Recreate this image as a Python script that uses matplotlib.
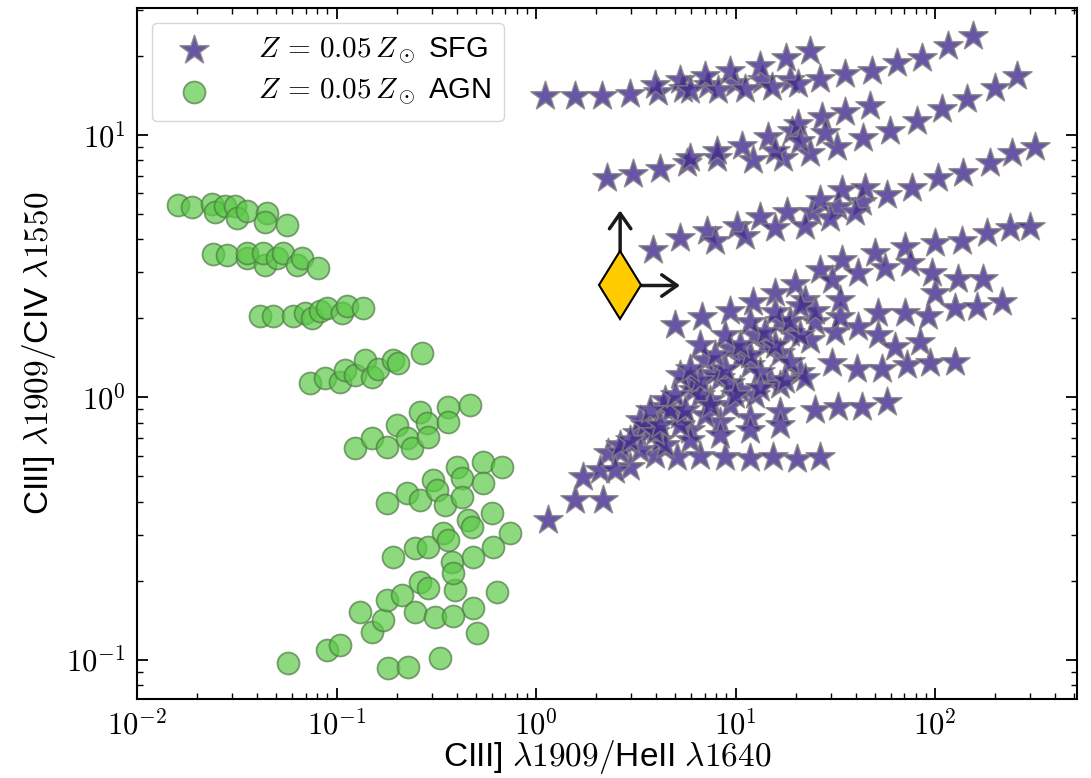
import matplotlib.pyplot as plt
import numpy as np
from matplotlib.ticker import FuncFormatter, LogLocator

plt.rcParams['mathtext.fontset'] = 'cm'
plt.rcParams['font.family'] = ['Liberation Sans', 'DejaVu Sans']

# AGN models, values as log10(CIII]/HeII), log10(CIII]/CIV)
agn_row1_x = [-1.795, -1.724, -1.624, -1.609, -1.559, -1.509, -1.499, -1.449, -1.349, -1.359, -1.248]
agn_row1_y = [0.735, 0.724, 0.739, 0.705, 0.728, 0.731, 0.682, 0.712, 0.701, 0.667, 0.659]
agn_row2_x = [-1.619, -1.549, -1.449, -1.449, -1.359, -1.369, -1.298, -1.268, -1.198, -1.173, -1.093]
agn_row2_y = [0.545, 0.541, 0.530, 0.552, 0.503, 0.552, 0.530, 0.549, 0.503, 0.530, 0.495]
agn_row3_x = [-1.384, -1.318, -1.218, -1.158, -1.123, -1.083, -1.048, -0.973, -0.948, -0.867]
agn_row3_y = [0.309, 0.312, 0.312, 0.320, 0.301, 0.331, 0.339, 0.320, 0.350, 0.339]
agn_row4_x = [-1.133, -1.058, -0.983, -0.958, -0.907, -0.857, -0.822, -0.792, -0.717, -0.692, -0.572]
agn_row4_y = [0.053, 0.072, 0.057, 0.103, 0.084, 0.141, 0.076, 0.110, 0.141, 0.130, 0.171]
agn_row5_x = [-0.907, -0.822, -0.747, -0.697, -0.647, -0.622, -0.582, -0.547, -0.542, -0.441, -0.441, -0.331]
agn_row5_y = [-0.194, -0.156, -0.190, -0.107, -0.156, -0.194, -0.057, -0.099, -0.152, -0.038, -0.095, -0.030]
agn_row6_x = [-0.747, -0.647, -0.582, -0.516, -0.496, -0.456, -0.396, -0.371, -0.371, -0.266, -0.266, -0.170]
agn_row6_y = [-0.404, -0.366, -0.392, -0.316, -0.354, -0.411, -0.267, -0.309, -0.381, -0.248, -0.328, -0.267]
agn_row7_x = [-0.717, -0.607, -0.542, -0.466, -0.441, -0.421, -0.341, -0.321, -0.316, -0.221, -0.216, -0.130]
agn_row7_y = [-0.610, -0.575, -0.571, -0.518, -0.545, -0.629, -0.469, -0.495, -0.610, -0.442, -0.571, -0.518]
agn_row8_x = [-0.582, -0.542, -0.406, -0.416, -0.316, -0.195]
agn_row8_y = [-0.705, -0.728, -0.735, -0.670, -0.804, -0.743]
agn_row9_x = [-0.882, -0.822, -0.767, -0.747, -0.672, -0.607, -0.506, -0.416, -0.296]
agn_row9_y = [-0.819, -0.895, -0.850, -0.773, -0.754, -0.819, -0.838, -0.834, -0.899]
agn_row10_x = [-1.243, -1.048, -0.983, -0.742, -0.642, -0.481]
agn_row10_y = [-1.013, -0.964, -0.945, -1.032, -1.029, -0.994]

# SFG models, same units
sfg_a1_x = [0.045, 0.195, 0.331, 0.471, 0.612, 0.737, 0.862, 0.997, 1.133, 1.273, 1.424, 1.549, 1.684, 1.810, 1.935, 2.065, 2.190]
sfg_a1_y = [1.147, 1.147, 1.147, 1.158, 1.166, 1.177, 1.189, 1.200, 1.208, 1.208, 1.215, 1.234, 1.246, 1.273, 1.295, 1.341, 1.379]
sfg_a2_x = [0.597, 0.722, 0.847, 0.973, 1.123, 1.253, 1.374]
sfg_a2_y = [1.189, 1.208, 1.227, 1.246, 1.265, 1.292, 1.322]
sfg_a3_x = [0.772, 0.912, 1.048, 1.183, 1.313]
sfg_a3_y = [1.170, 1.170, 1.177, 1.185, 1.193]
sfg_b1_x = [0.356, 0.486, 0.622, 0.757, 0.907, 1.088, 1.238, 1.374, 1.509, 1.639, 1.775, 1.910, 2.035, 2.161, 2.301, 2.411]
sfg_b1_y = [0.838, 0.853, 0.872, 0.892, 0.914, 0.903, 0.911, 0.930, 0.953, 0.987, 1.017, 1.055, 1.101, 1.139, 1.181, 1.227]
sfg_b2_x = [0.772, 0.907, 1.033, 1.163, 1.283, 1.313, 1.434, 1.549, 1.674]
sfg_b2_y = [0.911, 0.941, 0.960, 0.991, 1.017, 1.044, 1.067, 1.086, 1.112]
sfg_b3_x = [1.198, 1.323, 1.449]
sfg_b3_y = [0.941, 0.979, 1.006]
sfg_c1_x = [0.587, 0.722, 0.857, 1.008, 1.123, 1.258, 1.384, 1.514, 1.634, 1.760, 1.885, 2.015, 2.141, 2.276, 2.386, 2.501]
sfg_c1_y = [0.560, 0.606, 0.636, 0.655, 0.686, 0.705, 0.705, 0.724, 0.743, 0.770, 0.800, 0.838, 0.857, 0.892, 0.933, 0.953]
sfg_c2_x = [0.897, 1.048, 1.198, 1.349, 1.474, 1.599]
sfg_c2_y = [0.598, 0.617, 0.644, 0.655, 0.682, 0.705]
sfg_c3_x = [1.424, 1.534, 1.649]
sfg_c3_y = [0.751, 0.789, 0.800]
sfg_d1_x = [0.697, 0.832, 0.973, 1.088, 1.198, 1.298, 1.424, 1.534, 1.699, 1.850, 2.000, 2.136, 2.261, 2.376, 2.476]
sfg_d1_y = [0.274, 0.305, 0.331, 0.362, 0.396, 0.434, 0.484, 0.522, 0.552, 0.572, 0.587, 0.598, 0.625, 0.644, 0.648]
sfg_tip_x = [0.060, 0.196, 0.336, 0.236, 0.361, 0.471, 0.506, 0.321, 0.421]
sfg_tip_y = [-0.469, -0.392, -0.392, -0.305, -0.213, -0.267, -0.137, -0.278, -0.210]
sfg_e1_x = [0.597, 0.707, 0.822, 0.947, 1.073, 1.188, 1.308, 1.424]
sfg_e1_y = [-0.221, -0.229, -0.225, -0.229, -0.232, -0.229, -0.236, -0.229]
sfg_e2_x = [0.622, 0.772, 0.922, 1.073, 1.223, 1.399, 1.514, 1.634, 1.760]
sfg_e2_y = [-0.164, -0.126, -0.095, -0.080, -0.057, -0.050, -0.038, -0.038, -0.019]
sfg_e3_x = [0.571, 0.722, 0.872, 1.023, 1.173, 1.323, 1.484, 1.609, 1.734, 1.860, 1.975, 2.100]
sfg_e3_y = [-0.126, -0.069, -0.011, 0.027, 0.065, 0.095, 0.130, 0.110, 0.110, 0.122, 0.130, 0.133]
sfg_e4_x = [0.637, 0.787, 0.922, 1.073, 1.223, 1.374, 1.499, 1.614, 1.714, 1.800, 1.925]
sfg_e4_y = [-0.038, 0.027, 0.072, 0.122, 0.171, 0.217, 0.248, 0.267, 0.236, 0.191, 0.210]
sfg_e5_x = [0.521, 0.647, 0.772, 0.887, 1.023, 1.148, 1.273, 1.399, 1.524, 1.714, 1.850, 1.965, 2.100, 2.211, 2.336, 2.000]
sfg_e5_y = [-0.088, -0.011, 0.057, 0.091, 0.149, 0.198, 0.244, 0.286, 0.305, 0.320, 0.320, 0.312, 0.339, 0.343, 0.362, 0.396]
sfg_e6_x = [0.722, 0.847, 0.973, 1.098, 1.223, 1.349, 1.484, 1.614, 1.750, 1.875, 1.985, 2.116, 2.241]
sfg_e6_y = [0.084, 0.141, 0.187, 0.236, 0.293, 0.370, 0.446, 0.476, 0.495, 0.514, 0.476, 0.453, 0.453]
sfg_e7_x = [0.421, 0.546, 0.672, 0.822, 0.973, 1.123, 1.273]
sfg_e7_y = [-0.183, -0.107, -0.050, 0.008, 0.053, 0.095, 0.133]
sfg_e8_x = [0.396, 0.521, 0.647, 0.772, 0.922, 1.073, 1.223]
sfg_e8_y = [-0.278, -0.202, -0.183, -0.164, -0.145, -0.126, -0.107]
sfg_e9_x = [0.571, 0.697, 0.822, 0.947, 1.073, 1.198, 1.323]
sfg_e9_y = [-0.050, 0.008, 0.065, 0.110, 0.160, 0.198, 0.236]
sfg_e10_x = [0.471, 0.597, 0.722, 0.847, 0.973, 1.098, 1.223, 1.349]
sfg_e10_y = [-0.164, -0.133, -0.107, -0.069, -0.030, 0.008, 0.046, 0.072]
sfg_e11_x = [0.772, 0.897, 1.023, 1.148, 1.273, 1.399, 1.524]
sfg_e11_y = [0.110, 0.160, 0.198, 0.248, 0.293, 0.331, 0.370]
sfg_e12_x = [0.622, 0.747, 0.872, 0.998, 1.123, 1.248]
sfg_e12_y = [-0.107, -0.050, -0.030, 0.008, 0.034, 0.065]
sfg_e13_x = [0.822, 0.947, 1.073, 1.198, 1.323]
sfg_e13_y = [0.198, 0.236, 0.286, 0.324, 0.350]

# observed object (lower limits)
obs_x = 2.64
obs_y = 2.67
obs_x_lim = 5.27
obs_y_lim = 5.16

agn_x = 10 ** np.concatenate([agn_row1_x, agn_row2_x, agn_row3_x, agn_row4_x, agn_row5_x,
                              agn_row6_x, agn_row7_x, agn_row8_x, agn_row9_x, agn_row10_x])
agn_y = 10 ** np.concatenate([agn_row1_y, agn_row2_y, agn_row3_y, agn_row4_y, agn_row5_y,
                              agn_row6_y, agn_row7_y, agn_row8_y, agn_row9_y, agn_row10_y])
sfg_x = 10 ** np.concatenate([sfg_a1_x, sfg_a2_x, sfg_a3_x, sfg_b1_x, sfg_b2_x, sfg_b3_x, sfg_c1_x,
                              sfg_c2_x, sfg_c3_x, sfg_d1_x, sfg_tip_x, sfg_e1_x, sfg_e2_x, sfg_e3_x,
                              sfg_e4_x, sfg_e5_x, sfg_e6_x, sfg_e7_x, sfg_e8_x, sfg_e9_x,
                              sfg_e10_x, sfg_e11_x, sfg_e12_x, sfg_e13_x])
sfg_y = 10 ** np.concatenate([sfg_a1_y, sfg_a2_y, sfg_a3_y, sfg_b1_y, sfg_b2_y, sfg_b3_y, sfg_c1_y,
                              sfg_c2_y, sfg_c3_y, sfg_d1_y, sfg_tip_y, sfg_e1_y, sfg_e2_y, sfg_e3_y,
                              sfg_e4_y, sfg_e5_y, sfg_e6_y, sfg_e7_y, sfg_e8_y, sfg_e9_y,
                              sfg_e10_y, sfg_e11_y, sfg_e12_y, sfg_e13_y])

fig = plt.figure(figsize=(10.91, 7.78), dpi=100)
ax = fig.add_axes([0.1256, 0.1015, 0.8616, 0.8882])

ax.scatter(sfg_x, sfg_y, marker='*', s=480, c='#432a8f', alpha=0.8,
           edgecolors='#808080', linewidths=1.2, label=r'$Z\,=\,0.05\,Z_\odot$ SFG', zorder=3)
ax.scatter(agn_x, agn_y, marker='o', s=250, c='#5cc948', alpha=0.7,
           edgecolors='#4f7a45', linewidths=1.3, label=r'$Z\,=\,0.05\,Z_\odot$ AGN', zorder=3)

# lower limit arrows, then the diamond on top
arrow = dict(arrowstyle='->,head_length=0.5,head_width=0.35', lw=2.5, color='#1a1a1a',
             mutation_scale=22, shrinkA=0, shrinkB=0)
ax.annotate('', xy=(obs_x, obs_y_lim), xytext=(obs_x, obs_y), arrowprops=arrow, zorder=4)
ax.annotate('', xy=(obs_x_lim, obs_y), xytext=(obs_x, obs_y), arrowprops=arrow, zorder=4)
ax.plot(obs_x, obs_y, marker='d', markersize=35, markerfacecolor='#ffcc00',
        markeredgecolor='black', markeredgewidth=1.5, zorder=5)

ax.set_xscale('log')
ax.set_yscale('log')
ax.set_xlim(0.01, 515)
ax.set_ylim(0.0708, 30.5)

fmt = FuncFormatter(lambda v, pos: r'$10^{%d}$' % round(np.log10(v)))
ax.xaxis.set_major_formatter(fmt)
ax.yaxis.set_major_formatter(fmt)
ax.xaxis.set_minor_locator(LogLocator(base=10, subs=np.arange(2, 10)))
ax.yaxis.set_minor_locator(LogLocator(base=10, subs=np.arange(2, 10)))
ax.tick_params(which='both', direction='in', top=True, right=True, labelsize=22)
ax.tick_params(which='major', length=8, width=1.3, pad=8)
ax.tick_params(which='minor', length=4, width=1.0)
for sp in ax.spines.values():
    sp.set_linewidth(1.5)

ax.set_xlabel(r'CIII] $\lambda1909/$HeII $\lambda1640$', fontsize=24, labelpad=-2)
ax.set_ylabel(r'CIII] $\lambda1909/$CIV $\lambda1550$', fontsize=24, labelpad=6)

ax.legend(loc='upper left', fontsize=21, scatterpoints=1, frameon=True,
          borderpad=0.45, handletextpad=1.2, labelspacing=0.35)

plt.savefig('out.png', dpi=100)
